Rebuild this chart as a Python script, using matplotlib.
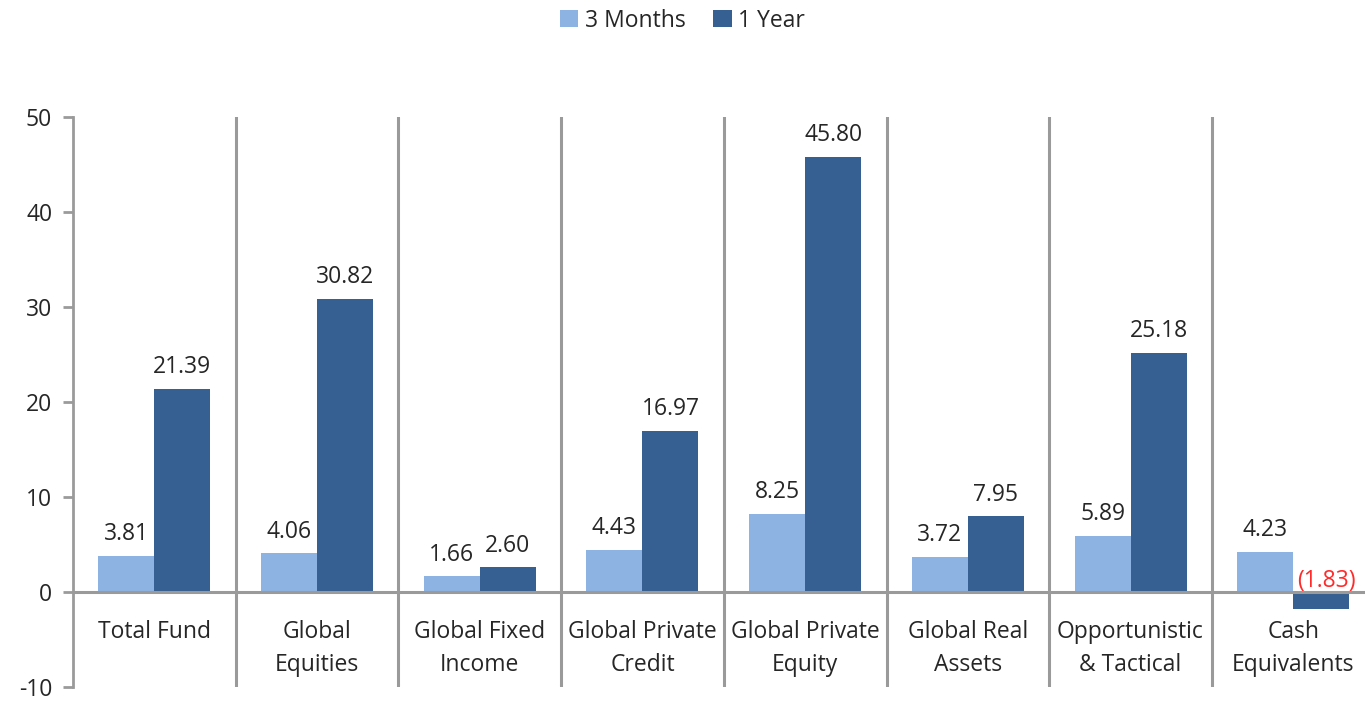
import matplotlib.pyplot as plt
import numpy as np

categories = ["Total Fund", "Global\nEquities", "Global Fixed\nIncome", "Global Private\nCredit",
              "Global Private\nEquity", "Global Real\nAssets", "Opportunistic\n& Tactical", "Cash\nEquivalents"]
three_months = [3.81, 4.06, 1.66, 4.43, 8.25, 3.72, 5.89, 4.23]
one_year = [21.39, 30.82, 2.60, 16.97, 45.80, 7.95, 25.18, -1.83]
yticks = [-10, 0, 10, 20, 30, 40, 50]

light = "#8DB3E2"
dark = "#366092"
grey = "#9A9A9A"
txt = "#262626"

plt.rcParams["font.family"] = ["Open Sans", "DejaVu Sans"]
plt.rcParams["axes.unicode_minus"] = False

fig = plt.figure(figsize=(13.65, 7.03), dpi=100)
W, H = 1365, 703
ax = fig.add_axes([73 / W, 1 - 687 / H, 1 - 73 / W, (687 - 117) / H])

x = np.arange(len(categories))
bw = 0.344
b1 = ax.bar(x - bw / 2, three_months, bw, color=light, label="3 Months", zorder=2)
b2 = ax.bar(x + bw / 2, one_year, bw, color=dark, label="1 Year", zorder=2)

fs = 16.5
for xi, v in zip(x - bw / 2, three_months):
    ax.annotate(f"{v:.2f}", (xi, v), xytext=(0, 7), textcoords="offset points",
                ha="center", va="bottom", fontsize=fs, color=txt)
for xi, v in zip(x + bw / 2, one_year):
    if v >= 0:
        ax.annotate(f"{v:.2f}", (xi, v), xytext=(0, 7), textcoords="offset points",
                    ha="center", va="bottom", fontsize=fs, color=txt)
    else:
        ax.annotate(f"({abs(v):.2f})", (xi, 0), xytext=(4, -1), textcoords="offset points",
                    ha="center", va="bottom", fontsize=fs, color="#FF2A2A", zorder=4)

ax.set_ylim(-10, 50)
ax.set_xlim(-0.5, -0.5 + (W - 73) / 162.7)
ax.set_yticks(yticks)
ax.set_xticks([])
ax.tick_params(axis="y", labelsize=fs, colors=grey, labelcolor=txt, length=7, width=2, pad=8)

for s in ["top", "right", "bottom"]:
    ax.spines[s].set_visible(False)
ax.spines["left"].set_color(grey)
ax.spines["left"].set_linewidth(2)

ax.axhline(0, color=grey, lw=2.2, zorder=3)
for b in np.arange(0.5, len(categories) - 0.5, 1):
    ax.axvline(b, color=grey, lw=2.2, zorder=1)

for xi, lab in zip(x, categories):
    ax.text(xi, -2.9, lab, ha="center", va="top", fontsize=fs, color=txt, linespacing=1.55)

fig.legend(handles=[b1, b2], loc="upper center", bbox_to_anchor=(0.5, 1.017), ncol=2, frameon=False,
           fontsize=fs, handlelength=0.8, handleheight=0.8, handletextpad=0.3, columnspacing=1.2,
           labelcolor=txt)

fig.savefig("out.png", dpi=100)
